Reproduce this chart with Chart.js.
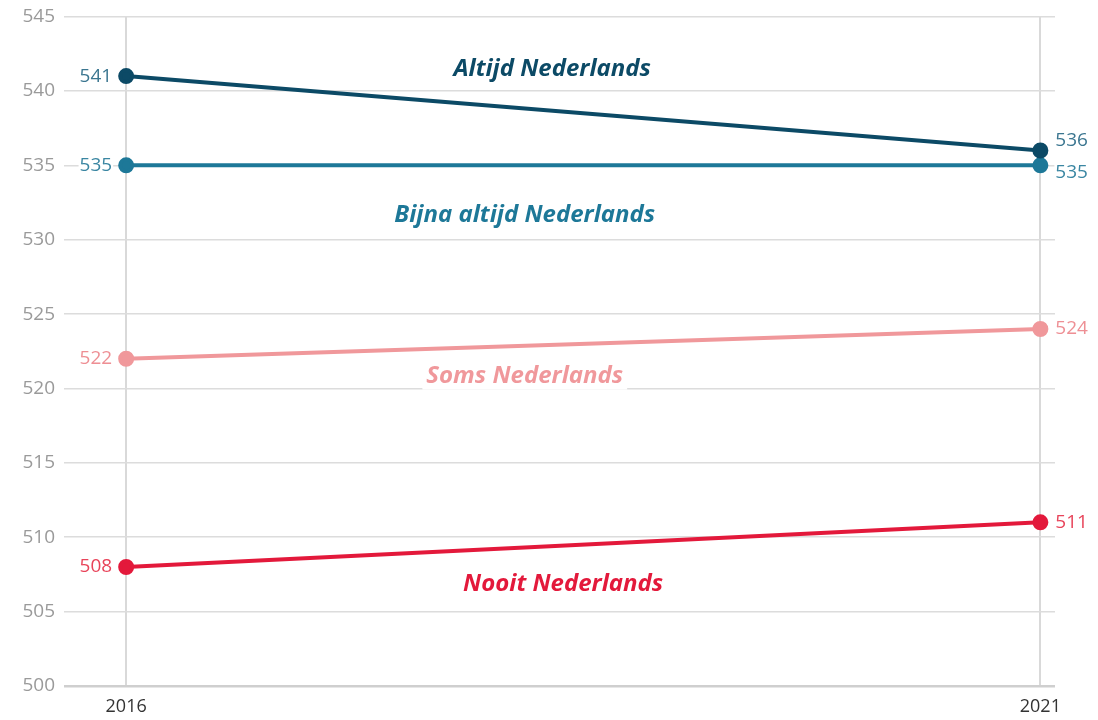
<!DOCTYPE html>
<html>
<head>
<meta charset="utf-8">
<script src="https://cdn.jsdelivr.net/npm/chart.js@4.4.0/dist/chart.umd.min.js"></script>
<style>
  html, body { margin: 0; padding: 0; background: #fff; }
  #wrap { width: 1098px; height: 720px; }
</style>
</head>
<body>
<div id="wrap"><canvas id="grafiek"></canvas></div>
<script>
// Gegevens
const jaren = [2016, 2021];
const altijd = [541, 536];
const bijnaAltijd = [535, 535];
const soms = [522, 524];
const nooit = [508, 511];
const yTicks = [500, 505, 510, 515, 520, 525, 530, 535, 540, 545];

const reeksen = [
  { naam: 'Altijd Nederlands', waarden: altijd, lijn: '#0c4a66', tekst: '#3b7690', label: 'Altijd Nederlands' },
  { naam: 'Bijna altijd Nederlands', waarden: bijnaAltijd, lijn: '#1d7898', tekst: '#3a86a2', label: 'Bijna altijd Nederlands' },
  { naam: 'Soms Nederlands', waarden: soms, lijn: '#f0989b', tekst: '#ee8f94', label: 'Soms Nederlands' },
  { naam: 'Nooit Nederlands', waarden: nooit, lijn: '#e3193b', tekst: '#e8445a', label: 'Nooit Nederlands' }
];

// plaats van de reeksnamen (in jaar / score)
const naamPlek = [
  { x: 2018.33, y: 541.5 },
  { x: 2018.18, y: 531.65 },
  { x: 2018.18, y: 520.8 },
  { x: 2018.39, y: 506.85 }
];
// verschuiving van de waardelabels rechts (px)
const rechtsDy = [-10, 7, 0, 0];

const labelPlugin = {
  id: 'labels',
  afterDatasetsDraw(chart) {
    const ctx = chart.ctx;
    const xs = chart.scales.x, ys = chart.scales.y;
    ctx.save();
    reeksen.forEach((r, i) => {
      ctx.font = '19px "Open Sans"';
      ctx.textBaseline = 'middle';
      // links
      const tl = String(r.waarden[0]);
      const wl = ctx.measureText(tl).width;
      const xl = xs.getPixelForValue(jaren[0]) - 14;
      const yl = ys.getPixelForValue(r.waarden[0]);
      ctx.fillStyle = '#fff';
      ctx.fillRect(xl - wl - 1, yl - 10, wl + 2, 20);
      ctx.fillStyle = r.tekst;
      ctx.textAlign = 'right';
      ctx.fillText(tl, xl, yl);
      // rechts
      const tr = String(r.waarden[1]);
      const wr = ctx.measureText(tr).width;
      const xr = xs.getPixelForValue(jaren[1]) + 15;
      const yr = ys.getPixelForValue(r.waarden[1]) + rechtsDy[i];
      ctx.fillStyle = '#fff';
      ctx.fillRect(xr - 1, yr - 10, wr + 2, 20);
      ctx.fillStyle = r.tekst;
      ctx.textAlign = 'left';
      ctx.fillText(tr, xr, yr);
      // reeksnaam
      ctx.font = 'italic bold 24px "Open Sans"';
      ctx.textAlign = 'center';
      const px = xs.getPixelForValue(naamPlek[i].x);
      const py = ys.getPixelForValue(naamPlek[i].y);
      const wn = ctx.measureText(r.label).width;
      ctx.fillStyle = '#fff';
      ctx.fillRect(px - wn / 2 - 4, py - 13, wn + 8, 26);
      ctx.fillStyle = r.lijn;
      ctx.fillText(r.label, px, py);
    });
    ctx.restore();
  }
};

new Chart(document.getElementById('grafiek'), {
  type: 'line',
  data: {
    datasets: reeksen.map(r => ({
      label: r.naam,
      data: jaren.map((j, k) => ({ x: j, y: r.waarden[k] })),
      borderColor: r.lijn,
      backgroundColor: r.lijn,
      borderWidth: 4,
      pointRadius: 6,
      pointHoverRadius: 6,
      fill: false
    }))
  },
  options: {
    responsive: true,
    maintainAspectRatio: false,
    animation: false,
    layout: { padding: { top: 12, right: 43, left: 0, bottom: 0 } },
    plugins: {
      legend: { display: false },
      tooltip: { enabled: false }
    },
    scales: {
      x: {
        type: 'linear',
        min: 2015.66,
        max: 2021.08,
        afterBuildTicks: ax => { ax.ticks = jaren.map(v => ({ value: v })); },
        afterFit: ax => { ax.height = 34; },
        border: { display: false },
        grid: { color: '#d9d9d9', lineWidth: 2, drawTicks: false },
        ticks: {
          color: '#333',
          font: { family: 'Open Sans', size: 18 },
          padding: 10,
          callback: v => String(v)
        }
      },
      y: {
        min: 500,
        max: 545,
        afterBuildTicks: ax => { ax.ticks = yTicks.map(v => ({ value: v })); },
        afterFit: ax => { ax.width = 64; },
        border: { display: false },
        grid: {
          color: ctx => ctx.tick && ctx.tick.value === 500 ? '#cfcfcf' : '#dcdcdc',
          lineWidth: ctx => ctx.tick && ctx.tick.value === 500 ? 2.5 : 1.5,
          drawTicks: false
        },
        ticks: {
          color: '#9a9a9a',
          font: { family: 'Open Sans', size: 19, lineHeight: 0.8 },
          padding: 9
        }
      }
    }
  },
  plugins: [labelPlugin]
});
</script>
</body>
</html>
